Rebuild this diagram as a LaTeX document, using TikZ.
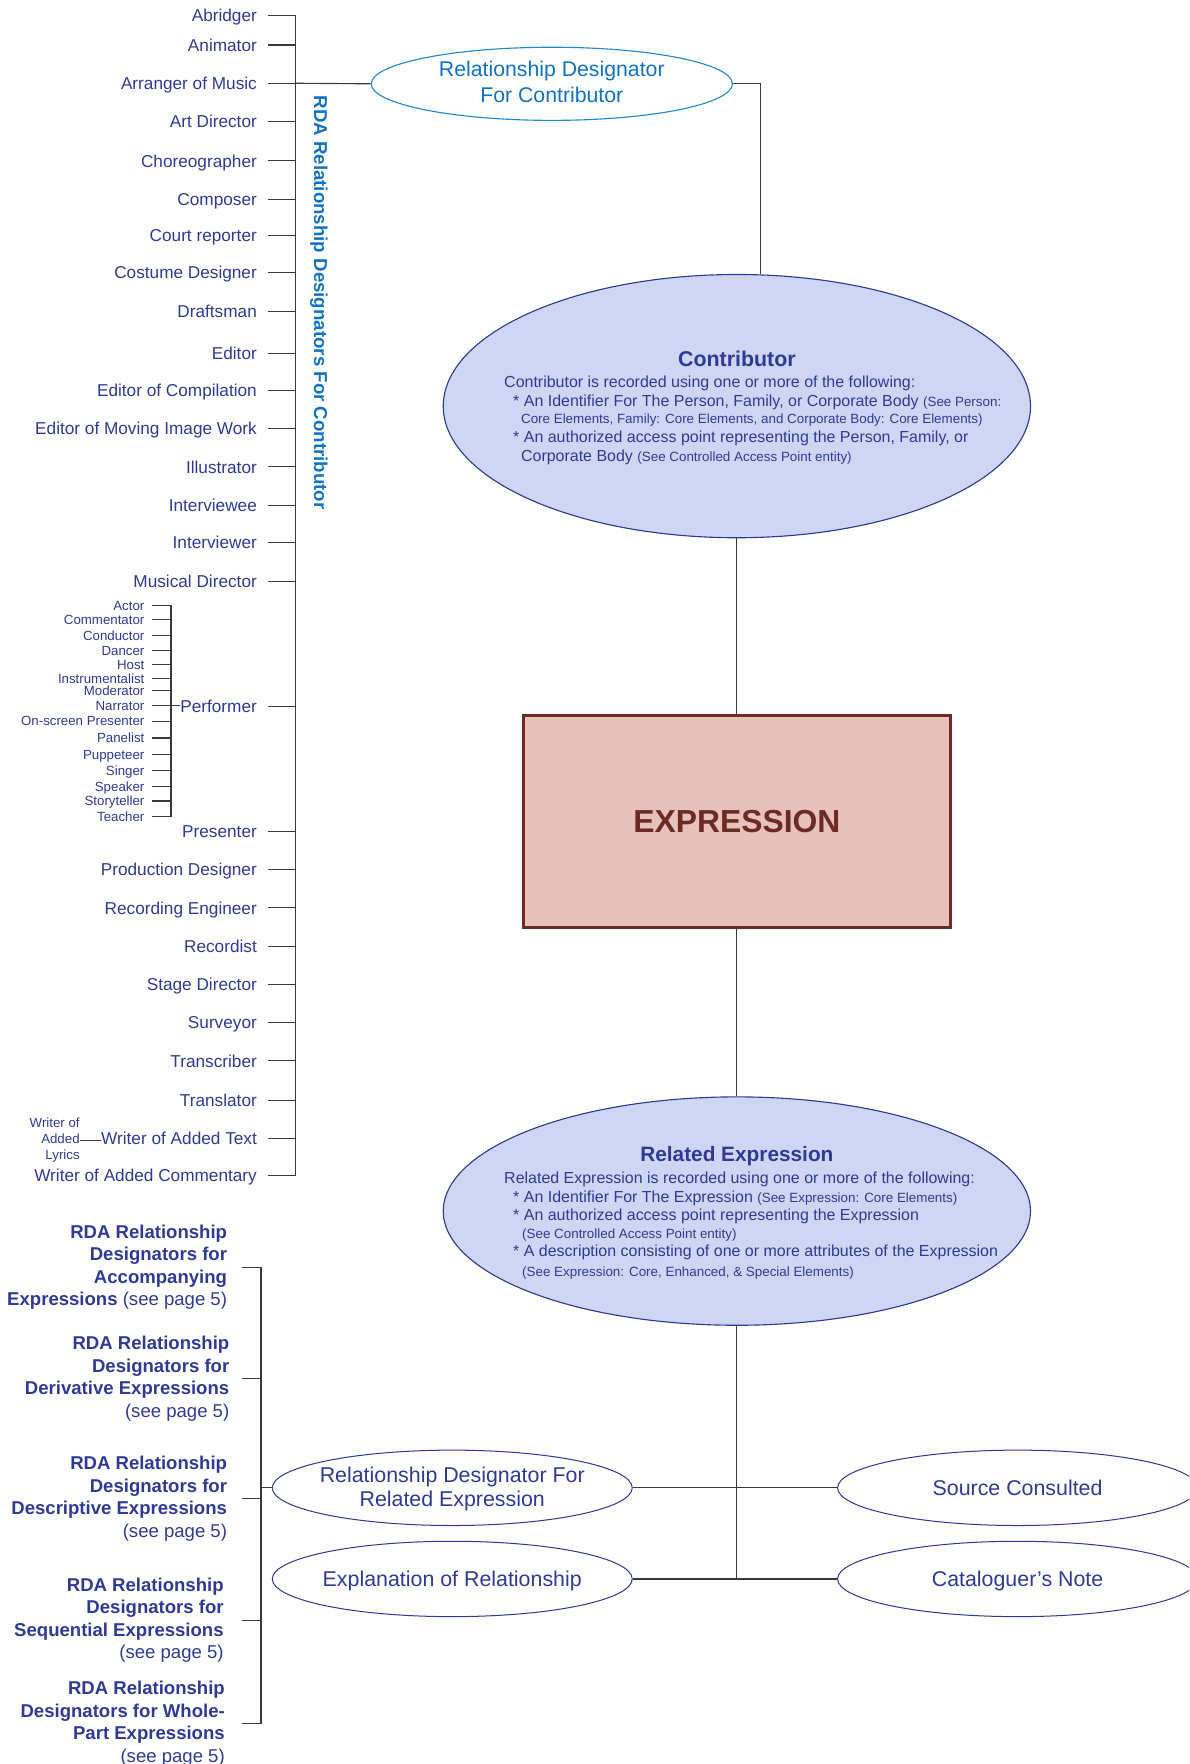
\documentclass[tikz,border=0pt]{standalone}
\usepackage{fontspec}
\setmainfont{Liberation Sans}
\usetikzlibrary{shapes.geometric}
\definecolor{tblue}{HTML}{2E3A96}
\definecolor{vblue}{HTML}{1172C4}
\definecolor{eblue}{HTML}{2288D2}
\definecolor{cfill}{HTML}{CFD6F3}
\definecolor{cborder}{HTML}{2E3A96}
\definecolor{exfill}{HTML}{E7C1BC}
\definecolor{exborder}{HTML}{6F2B26}
\definecolor{extext}{HTML}{6B2B24}
\definecolor{linec}{HTML}{3A3A3A}
\newcommand{\fs}[2]{\fontsize{#1}{#2}\selectfont}
\begin{document}
\begin{tikzpicture}[x=1pt,y=-1pt,
  lab/.style={anchor=east, inner sep=0pt, text=tblue, font=\fs{15.3}{18}, text height=11pt, text depth=0pt},
  sml/.style={anchor=east, inner sep=0pt, text=tblue, font=\fs{11.8}{14}, text height=8.5pt, text depth=0pt},
  ln/.style={draw=linec, line width=1pt},
  bigell/.style={ellipse, fill=cfill, draw=cborder, line width=1pt, inner sep=0pt, minimum width=522pt},
  smell/.style={ellipse, draw=cborder, line width=0.9pt, fill=white, inner sep=0pt, minimum width=320pt, minimum height=67pt},
  eltext/.style={text=tblue, font=\fs{19}{22}, align=center, inner sep=0pt},
  ctitle/.style={anchor=base, text=tblue, inner sep=0pt},
  cline/.style={anchor=base west, text=tblue, inner sep=0pt, font=\fs{14.2}{16}},
  csmall/.style={anchor=base west, text=tblue, inner sep=0pt, font=\fs{11.9}{14}},
  blk/.style={anchor=east, align=right, text=tblue, inner sep=0pt, font=\fs{16.5}{20}\bfseries}
]
\useasboundingbox (0,0) rectangle (1057,1568);
\clip (0,0) rectangle (1057,1568);

\coordinate (spine) at (263,0);
\coordinate (pspine) at (152,0);
\coordinate (bspine) at (232,0);
\coordinate (bstart) at (215,0);
\coordinate (cjoin) at (676,0);

% main nodes
\node[ellipse, draw=eblue, line width=1pt, fill=white, inner sep=0pt, minimum width=321pt, minimum height=65pt] (rdc) at (490.5,74.5) {};
\node[eltext, text=vblue, font=\fs{18.9}{23}] (rdct) at (490.5,73) {Relationship Designator\\For Contributor};

\node[bigell, minimum height=234pt] (contrib) at (655,361) {};
\node[ctitle, font=\fs{19}{22}\bfseries] (ct) at (655,325.8) {Contributor};
\node[cline] (c1) at (448,344) {Contributor is recorded using one or more of the following:};
\node[cline] (c2) at (456,361) {* An Identifier For The Person, Family, or Corporate Body {\fs{11.9}{14}(See Person:}};
\node[csmall] (c3) at (463,376.5) {Core Elements, Family: Core Elements, and Corporate Body: Core Elements)};
\node[cline] (c4) at (456,393) {* An authorized access point representing the Person, Family, or};
\node[cline] (c5) at (463,410) {Corporate Body {\fs{11.9}{14}(See Controlled Access Point entity)}};

\node[draw=exborder, fill=exfill, line width=2.5pt, minimum width=379.5pt, minimum height=188.5pt, inner sep=0pt,
      text=extext, font=\fs{28.3}{32}\bfseries] (expr) at (655,730.5) {EXPRESSION};

\node[bigell, minimum height=203pt] (relexp) at (655,1076.5) {};
\node[ctitle, font=\fs{18.5}{22}\bfseries] (rt) at (655,1032.6) {Related Expression};
\node[cline] (r1) at (448,1052) {Related Expression is recorded using one or more of the following:};
\node[cline] (r2) at (456,1069) {* An Identifier For The Expression {\fs{11.9}{14}(See Expression: Core Elements)}};
\node[cline] (r3) at (456,1085) {* An authorized access point representing the Expression};
\node[csmall] (r4) at (464,1100.5) {(See Controlled Access Point entity)};
\node[cline] (r5) at (456,1117) {* A description consisting of one or more attributes of the Expression};
\node[csmall] (r6) at (464,1134.5) {(See Expression: Core, Enhanced, \& Special Elements)};

\node[smell] (rdre) at (402,1322.5) {};
\node[eltext] (rdret) at (402,1323.5) {Relationship Designator For\\Related Expression};
\node[smell] (explrel) at (402,1403.5) {};
\node[eltext] (explrelt) at (402,1405.5) {Explanation of Relationship};
\node[smell] (srccon) at (904.5,1322.5) {};
\node[eltext] (srccont) at (904.5,1322.5) {Source Consulted};
\node[smell] (catn) at (904.5,1403.5) {};
\node[eltext] (catnt) at (904.5,1405) {Cataloguer’s Note};

% vertical label
\node[rotate=-90, text=vblue, inner sep=0pt, font=\fs{16.6}{20}\bfseries] (vlab) at (283.5,269) {RDA Relationship Designators For Contributor};

% left list
\foreach \n/\y/\t in {ab/14/Abridger, an/40/Animator, ar/74/Arranger of Music, ad/108/Art Director,
  ch/143/Choreographer, co/177/Composer, cr/209/Court reporter, cd/242/Costume Designer,
  dr/277/Draftsman, ed/314/Editor, ec/347/Editor of Compilation, em/381/Editor of Moving Image Work,
  il/415/Illustrator, ie/449/Interviewee, ir/482/Interviewer, md/517/Musical Director,
  pf/628/Performer, pr/739/Presenter, pd/773/Production Designer, re/807/Recording Engineer,
  rc/841/Recordist, sd/875/Stage Director, su/909/Surveyor, tb/943/Transcriber,
  tl/978/Translator, wt/1012/Writer of Added Text, wc/1045/Writer of Added Commentary}
{
  \node[lab] (\n) at (228.5,\y) {\t};
  \draw[ln] ([xshift=9.5pt]\n.east) -- (\n.east -| spine);
}
\draw[ln] (ab.east -| spine) -- (wc.east -| spine);
\draw[ln] (ar.east -| spine) -- (rdc.west);

% performer sub-list
\foreach \n/\y/\t in {p1/538/Actor, p2/551/Commentator, p3/565/Conductor, p4/578/Dancer, p5/591/Host,
  p6/603/Instrumentalist, p7/614/Moderator, p8/627/Narrator, p9/641/On-screen Presenter,
  p10/656/Panelist, p11/671/Puppeteer, p12/685/Singer, p13/699/Speaker, p14/712/Storyteller, p15/726/Teacher}
{
  \node[sml] (\n) at (128.5,\y) {\t};
  \draw[ln] ([xshift=6.5pt]\n.east) -- (\n.east -| pspine);
}
\draw[ln] (p1.east -| pspine) -- (p15.east -| pspine);
\draw[ln] (p8.east -| pspine) -- (p8.east -| pf.west);

% writer of added lyrics
\node[anchor=east, align=right, text=tblue, inner sep=0pt, font=\fs{11.8}{14.5}] (wal) at (71,1013.5) {Writer of\\Added\\Lyrics};
\draw[ln] (wal.east) -- (wal.east -| wt.west);

% connectors of main chain
\draw[ln] (rdc.east) -| (cjoin |- contrib.north);
\draw[ln] (contrib.south) -- (expr.north);
\draw[ln] (expr.south) -- (relexp.north);
\draw[ln] (relexp.south) -- (relexp.south |- explrel.east);
\draw[ln] (rdre.east) -- (srccon.west);
\draw[ln] (explrel.east) -- (catn.west);

% lower-left blocks
\node[blk] (b1) at (202,1126.3) {RDA Relationship\\Designators for\\Accompanying\\Expressions {\mdseries(see page 5)}};
\node[blk] (b2) at (204,1225.3) {RDA Relationship\\Designators for\\Derivative Expressions\\{\mdseries(see page 5)}};
\node[blk] (b3) at (202,1332.3) {RDA Relationship\\Designators for\\Descriptive Expressions\\{\mdseries(see page 5)}};
\node[blk] (b4) at (199,1440.3) {RDA Relationship\\Designators for\\Sequential Expressions\\{\mdseries(see page 5)}};
\node[blk] (b5) at (200,1532.3) {RDA Relationship\\Designators for Whole-\\Part Expressions\\{\mdseries(see page 5)}};
\foreach \b in {b1,b2,b3,b4,b5}{
  \draw[ln] (\b.east -| bstart) -- (\b.east -| bspine);
}
\draw[ln] (b1.east -| bspine) -- (b5.east -| bspine);
\draw[ln] (rdre.west -| bspine) -- (rdre.west);
\end{tikzpicture}
\end{document}
